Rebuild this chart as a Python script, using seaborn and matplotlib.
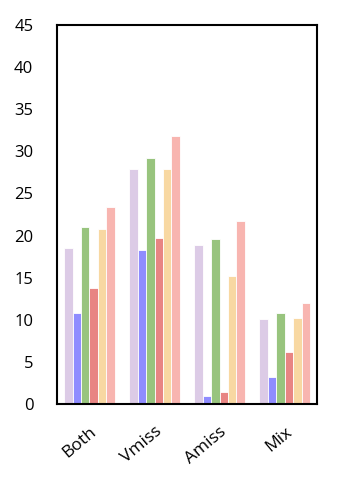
import pandas as pd
import seaborn as sns
import matplotlib.pyplot as plt

categories = ['Both', 'Vmiss', 'Amiss', 'Mix']
series_names = ['s1', 's2', 's3', 's4', 's5', 's6']
s1 = [18.5, 27.9, 18.9, 10.1]
s2 = [10.8, 18.3, 0.95, 3.2]
s3 = [21.0, 29.2, 19.6, 10.8]
s4 = [13.8, 19.7, 1.4, 6.2]
s5 = [20.8, 27.9, 15.2, 10.2]
s6 = [23.4, 31.8, 21.7, 12.0]
colors = ['#dccbe6', '#8f8cff', '#98c47e', '#e88583', '#f8d8a2', '#f8b5b0']

# tableau long format pour seaborn
rows = []
for name, vals in zip(series_names, [s1, s2, s3, s4, s5, s6]):
    for cat, v in zip(categories, vals):
        rows.append({'cat': cat, 'series': name, 'value': v})
df = pd.DataFrame(rows)

sns.set_style('white')
plt.rcParams['font.family'] = ['Open Sans', 'DejaVu Sans']

fig = plt.figure(figsize=(3.41, 4.8), dpi=100)
ax = fig.add_axes([0.167, 0.158, 0.763, 0.79])

sns.barplot(data=df, x='cat', y='value', hue='series', order=categories,
            hue_order=series_names, palette=colors, width=0.78, saturation=1,
            edgecolor='white', linewidth=0.6, legend=False, ax=ax)

ax.set_xlim(-0.5, 3.5)
ax.set_ylim(0, 45)
ax.set_yticks(range(0, 46, 5))
ax.set_xlabel('')
ax.set_ylabel('')
ax.tick_params(axis='both', length=0, colors='black')
ax.tick_params(axis='y', pad=17, labelsize=12)
ax.tick_params(axis='x', pad=14, labelsize=12.5)
plt.setp(ax.get_xticklabels(), rotation=40, ha='right', rotation_mode='anchor')
for s in ax.spines.values():
    s.set_color('black')
    s.set_linewidth(1.5)

fig.savefig('out.png', dpi=100)
